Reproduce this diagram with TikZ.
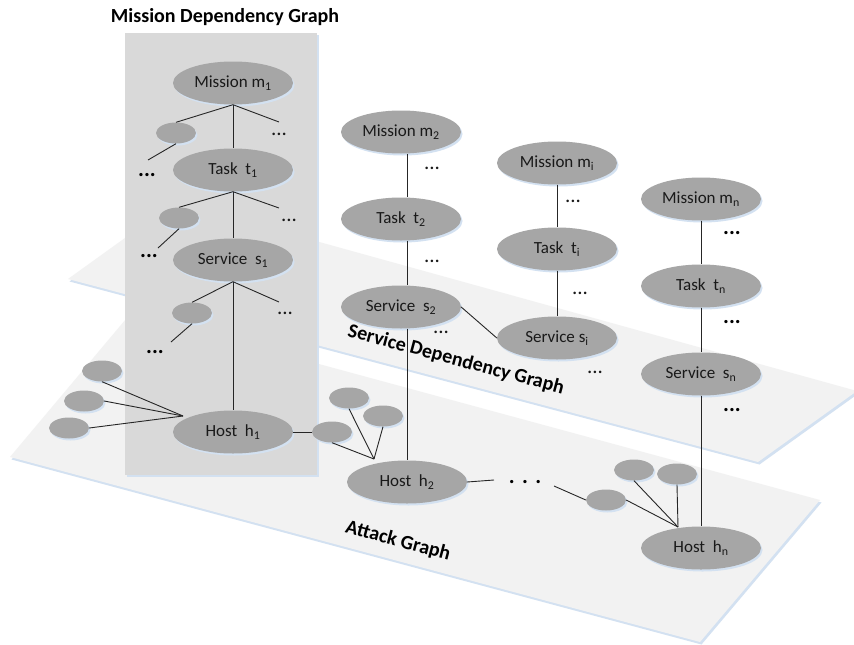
\documentclass[tikz,border=0pt]{standalone}
\usepackage{fontspec}
\setmainfont{Carlito}
\usetikzlibrary{shapes.geometric,shadows}
\definecolor{ndgray}{HTML}{A6A6A6}
\definecolor{planefill}{HTML}{F2F2F2}
\definecolor{boxfill}{HTML}{D9D9D9}
\definecolor{glow}{HTML}{D3E1F1}
\begin{document}
\begin{tikzpicture}[x=1pt,y=-1pt,
  ellnode/.style={ellipse, fill=ndgray, minimum width=120pt, minimum height=43pt, inner sep=0pt,
    font=\fontsize{17}{20}\selectfont, text=black!90,
    drop shadow={shadow xshift=1.5pt, shadow yshift=-2pt, fill=glow, opacity=1}},
  smallnode/.style={ellnode, minimum width=40pt, minimum height=21pt},
  conn/.style={line width=0.9pt, black!85},
  regdots/.style={inner sep=0pt, font=\fontsize{21}{22}\selectfont, text=black!90},
  bolddots/.style={inner sep=0pt, font=\fontsize{22}{22}\selectfont\bfseries},
  planelabel/.style={font=\fontsize{20}{24}\selectfont\bfseries, inner sep=0pt, rotate=-15}
]
\useasboundingbox (0,0) rectangle (854,645);
\fill[white] (0,0) rectangle (854,645);

% lower plane (attack graph)
\fill[glow, shift={(1.5,2.5)}] (10,457) -- (131,313) -- (820,500) -- (700,642) -- cycle;
\fill[planefill] (10,457) -- (131,313) -- (820,500) -- (700,642) -- cycle;
% upper plane (service dependency graph)
\fill[glow, shift={(1.5,2.5)}] (68,279) -- (175,202) -- (857,391) -- (758,462) -- cycle;
\fill[planefill] (68,279) -- (175,202) -- (857,391) -- (758,462) -- cycle;
% mission dependency box
\fill[glow, shift={(2,1.5)}] (125,33) rectangle (317,475);
\fill[boxfill] (125,33) rectangle (317,475);

\node[font=\fontsize{20}{24}\selectfont\bfseries, anchor=base, inner sep=0pt] (title) at (225,22.5) {Mission Dependency Graph};
\node[planelabel] (sdg) at (456,360) {Service Dependency Graph};
\node[planelabel] (ag) at (398,541) {Attack Graph};

% column 1
\node[ellnode] (m1) at (233,83) {Mission m\textsubscript{1}};
\node[ellnode] (t1) at (233,170) {Task\ \ t\textsubscript{1}};
\node[ellnode] (s1) at (233,260) {Service\ \ s\textsubscript{1}};
\node[ellnode] (h1) at (233,432) {Host\ \ h\textsubscript{1}};
\node[smallnode] (a1) at (176,133) {};
\node[smallnode] (a2) at (179,218) {};
\node[smallnode] (a3) at (192,313) {};
\node[smallnode] (b1) at (102,371) {};
\node[smallnode] (b2) at (84,401) {};
\node[smallnode] (b3) at (69,428) {};
\node[smallnode] (z1) at (332,432) {};
\node[smallnode] (z2) at (349,398) {};
\node[smallnode] (z3) at (383,416) {};
% column 2
\node[ellnode] (m2) at (401,132) {Mission m\textsubscript{2}};
\node[ellnode] (t2) at (401,219) {Task\ \ t\textsubscript{2}};
\node[ellnode] (s2) at (401,307) {Service\ \ s\textsubscript{2}};
\node[ellnode] (h2) at (407,482) {Host\ \ h\textsubscript{2}};
% column i
\node[ellnode] (mi) at (557,163) {Mission m\textsubscript{i}};
\node[ellnode] (ti) at (557,249) {Task\ \ t\textsubscript{i}};
\node[ellnode] (si) at (557,338) {Service s\textsubscript{i}};
% column n
\node[ellnode] (mn) at (701,199) {Mission m\textsubscript{n}};
\node[ellnode] (tn) at (701,286) {Task\ \ t\textsubscript{n}};
\node[ellnode] (sn) at (701,374) {Service\ \ s\textsubscript{n}};
\node[ellnode] (hn) at (701,548) {Host\ \ h\textsubscript{n}};
\node[smallnode] (w1) at (606,500) {};
\node[smallnode] (w2) at (634,470) {};
\node[smallnode] (w3) at (677,474) {};

% free ends
\coordinate (r1) at (279,122);
\coordinate (l1) at (148,160);
\coordinate (r2) at (279,208);
\coordinate (l2) at (158,248);
\coordinate (r3) at (279,302);
\coordinate (l3) at (171,342);
\coordinate (c1) at (183,416);
\coordinate (c2) at (374,459);
\coordinate (c3) at (678,527);
\coordinate (d1) at (494,480);
\coordinate (d2) at (554,486);

% connectors column 1
\draw[conn] (m1.south) -- (a1.north);
\draw[conn] (m1.south) -- (r1);
\draw[conn] (m1.south) -- (t1.north);
\draw[conn] (a1.south) -- (l1);
\draw[conn] (t1.south) -- (a2.north);
\draw[conn] (t1.south) -- (r2);
\draw[conn] (t1.south) -- (s1.north);
\draw[conn] (a2.south) -- (l2);
\draw[conn] (s1.south) -- (a3.north);
\draw[conn] (s1.south) -- (r3);
\draw[conn] (s1.south) -- (h1.north);
\draw[conn] (a3.south) -- (l3);
\draw[conn] (b1.south) -- (c1);
\draw[conn] (b2.east) -- (c1);
\draw[conn] (b3.east) -- (c1);
\draw[conn] (h1.east) -- (z1.west);
\draw[conn] (z1.south) -- (c2);
\draw[conn] (z2.south) -- (c2);
\draw[conn] (z3.south) -- (c2);
% column 2
\draw[conn] (m2.south -| h2.north) -- (t2.north -| h2.north);
\draw[conn] (t2.south -| h2.north) -- (s2.north -| h2.north);
\draw[conn] (s2.south -| h2.north) -- (h2.north);
\draw[conn] (s2.east) -- (si.west);
% column i
\draw[conn] (mi.south) -- (ti.north);
\draw[conn] (ti.south) -- (si.north);
% column n
\draw[conn] (mn.south) -- (tn.north);
\draw[conn] (tn.south) -- (sn.north);
\draw[conn] (sn.south) -- (hn.north);
% attack graph right part
\draw[conn] (h2.east) -- (d1);
\draw[conn] (d2) -- (w1.west);
\draw[conn] (w1.east) -- (c3);
\draw[conn] (w2.south) -- (c3);
\draw[conn] (w3.south) -- (c3);

% dots
\node[regdots] (e1) at (279,134) {...};
\node[bolddots] (f1) at (147,175) {...};
\node[regdots] (e2) at (289,220) {...};
\node[bolddots] (f2) at (149,256) {...};
\node[regdots] (e3) at (285,313) {...};
\node[bolddots] (f3) at (155,352) {...};
\node[regdots] (g1) at (432,168) {...};
\node[regdots] (g2) at (432,261) {...};
\node[regdots] (g3) at (441,332) {...};
\node[regdots] (i1) at (573,201) {...};
\node[regdots] (i2) at (580,293) {...};
\node[regdots] (i3) at (595,372) {...};
\node[bolddots] (n1) at (732,233) {...};
\node[bolddots] (n2) at (732,322) {...};
\node[bolddots] (n3) at (732,410) {...};
\node[bolddots] (q1) at (525,482) {.\,\,.\,\,.};
\end{tikzpicture}
\end{document}
